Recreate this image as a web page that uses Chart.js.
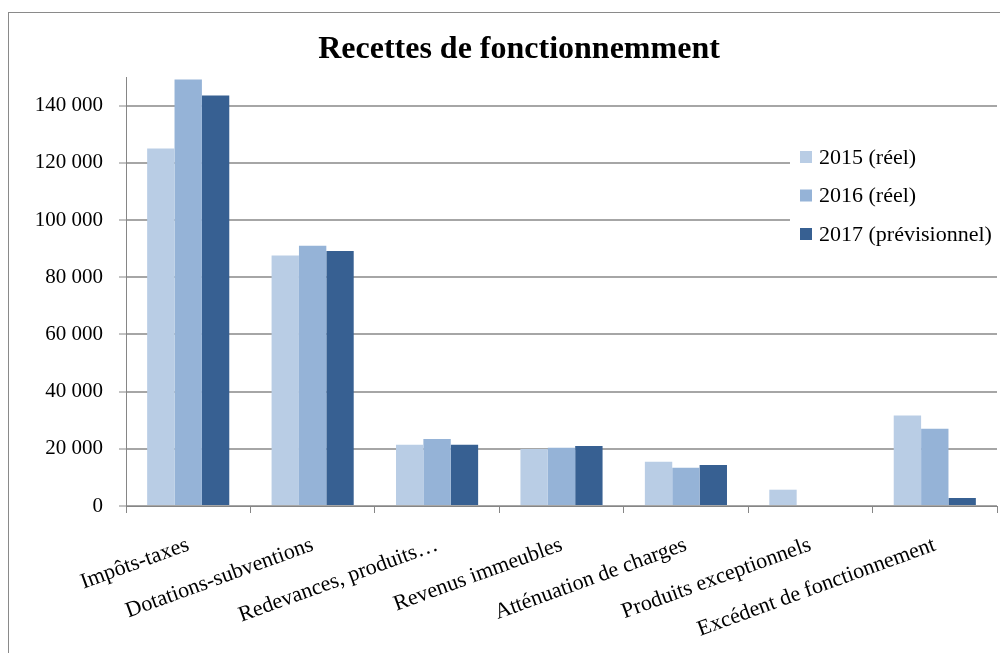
<!DOCTYPE html>
<html>
<head>
<meta charset="utf-8">
<script src="https://cdn.jsdelivr.net/npm/chart.js@4.4.1/dist/chart.umd.min.js"></script>
<style>
  html, body { margin: 0; padding: 0; background: #fff; }
  #wrap { width: 1000px; height: 653px; }
</style>
</head>
<body>
<div id="wrap"><canvas id="chart" width="1000" height="653"></canvas></div>
<script>
const categories = [
  "Impôts-taxes",
  "Dotations-subventions",
  "Redevances, produits…",
  "Revenus immeubles",
  "Atténuation de charges",
  "Produits exceptionnels",
  "Excédent de fonctionnement"
];
const seriesLabels = ["2015 (réel)", "2016 (réel)", "2017 (prévisionnel)"];
const values2015 = [125000, 87600, 21400, 19900, 15500, 5700, 31600];
const values2016 = [149100, 91000, 23400, 20400, 13400, null, 27000];
const values2017 = [143500, 89200, 21400, 21000, 14300, null, 2800];
const seriesColors = ["#b9cde5", "#95b3d7", "#376092"];

const yMax = 150000;
const yTicks = [0, 20000, 40000, 60000, 80000, 100000, 120000, 140000];

const serif = "'Liberation Serif', 'DejaVu Serif', serif";
const chartTitle = "Recettes de fonctionnemment";

function formatThousands(v) {
  return String(v).replace(/\B(?=(\d{3})+(?!\d))/g, " ");
}

// frame, title and the legend box that sits over the plot
const decorations = {
  id: "decorations",
  beforeDraw(chart) {
    const ctx = chart.ctx;
    ctx.save();
    ctx.strokeStyle = "#8a8a8a";
    ctx.lineWidth = 1;
    ctx.strokeRect(8.5, 12.5, 1100, 1000);
    ctx.restore();
  },
  afterDraw(chart) {
    const ctx = chart.ctx;
    ctx.save();
    ctx.fillStyle = "#000";
    ctx.font = "bold 32px " + serif;
    ctx.textAlign = "center";
    ctx.textBaseline = "alphabetic";
    ctx.fillText(chartTitle, 519, 58);

    // legend
    ctx.fillStyle = "#fff";
    ctx.fillRect(790, 138, 207, 115);
    ctx.font = "22px " + serif;
    ctx.textAlign = "left";
    ctx.textBaseline = "middle";
    chart.data.datasets.forEach((ds, i) => {
      const y = 157 + i * 38.5;
      ctx.fillStyle = ds.backgroundColor;
      ctx.fillRect(800, y - 6, 12, 12);
      ctx.fillStyle = "#000";
      ctx.fillText(ds.label, 819, y + 1);
    });
    ctx.restore();
  }
};

new Chart(document.getElementById("chart"), {
  type: "bar",
  data: {
    labels: categories,
    datasets: [values2015, values2016, values2017].map((vals, i) => ({
      label: seriesLabels[i],
      data: vals,
      backgroundColor: seriesColors[i],
      borderWidth: 0,
      categoryPercentage: 0.66,
      barPercentage: 1
    }))
  },
  options: {
    responsive: false,
    animation: false,
    layout: { padding: { top: 77, right: 3, left: 0, bottom: 0 } },
    plugins: {
      legend: { display: false },
      title: { display: false },
      tooltip: { enabled: false }
    },
    scales: {
      x: {
        afterFit(scale) { scale.height = 147; },
        grid: {
          drawOnChartArea: false,
          drawTicks: true,
          tickLength: 7,
          color: "#868686",
          tickColor: "#868686"
        },
        border: { color: "#868686", width: 1 },
        ticks: {
          autoSkip: false,
          minRotation: 20,
          maxRotation: 20,
          padding: 19,
          color: "#000",
          font: { family: serif, size: 22 }
        }
      },
      y: {
        min: 0,
        max: yMax,
        afterFit(scale) { scale.width = 126; },
        afterBuildTicks(scale) {
          scale.ticks = yTicks.map((v) => ({ value: v }));
        },
        grid: {
          color: "#a6a6a6",
          lineWidth: 2,
          tickLength: 7,
          tickColor: "#868686",
          tickWidth: 1
        },
        border: { color: "#868686", width: 1 },
        ticks: {
          padding: 16,
          color: "#000",
          font: { family: serif, size: 21 },
          callback: (v) => formatThousands(v)
        }
      }
    }
  },
  plugins: [decorations]
});
</script>
</body>
</html>
